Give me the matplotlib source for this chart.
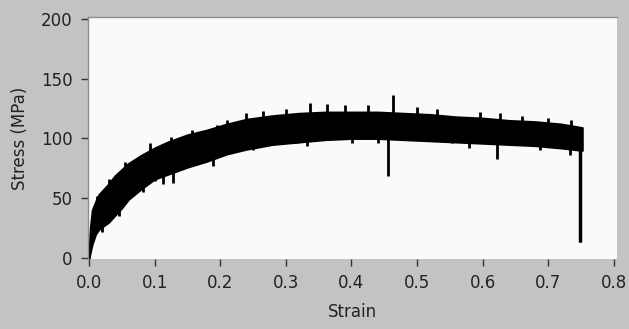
import matplotlib
matplotlib.use('Agg')
import matplotlib.pyplot as plt
import numpy as np

# envelope of the noisy stress-strain band
strain = [0.0, 0.002, 0.005, 0.01, 0.015, 0.02, 0.03, 0.04, 0.05, 0.06, 0.08,
          0.10, 0.12, 0.15, 0.18, 0.21, 0.24, 0.28, 0.32, 0.36, 0.40, 0.44,
          0.48, 0.52, 0.56, 0.60, 0.64, 0.68, 0.72, 0.752]
stress_top = [4, 25, 40, 47, 53, 56, 62, 69, 74, 79, 86,
              92, 97, 103, 107, 112, 116, 119, 121, 122, 122, 122,
              121, 120, 118, 117, 115, 114, 112, 109]
stress_low = [0, 5, 12, 20, 24, 26, 30, 36, 42, 49, 58,
              66, 70, 76, 81, 87, 91, 95, 97, 99, 100, 100,
              99, 98, 97, 96, 95, 94, 92, 90]

# spikes sticking out of the band (strain, tip value)
up_x = [0.012, 0.03, 0.055, 0.093, 0.125, 0.157, 0.195, 0.21, 0.24, 0.265,
        0.30, 0.337, 0.363, 0.39, 0.425, 0.463, 0.50, 0.53, 0.596, 0.627,
        0.66, 0.70, 0.735]
up_y = [52, 66, 80, 96, 101, 107, 111, 115, 121, 123,
        125, 130, 129, 128, 128, 136, 126, 125, 122, 121,
        119, 117, 115]
dn_x = [0.02, 0.045, 0.082, 0.10, 0.113, 0.128, 0.189, 0.204, 0.25, 0.317,
        0.332, 0.401, 0.44, 0.456, 0.553, 0.58, 0.622, 0.687, 0.733, 0.749]
dn_y = [22, 35, 55, 64, 62, 63, 77, 86, 90, 96,
        94, 96, 96, 69, 96, 92, 83, 90, 86, 13]

xticks = [0.0, 0.1, 0.2, 0.3, 0.4, 0.5, 0.6, 0.7, 0.8]
yticks = [0, 50, 100, 150, 200]

fig = plt.figure(figsize=(6.29, 3.29), dpi=100, facecolor='#c3c3c3')
ax = fig.add_axes([88/629, 1 - 259/329, (617 - 88)/629, (259 - 17)/329])
ax.set_facecolor('#fafafa')

ax.fill_between(strain, stress_low, stress_top, color='black', linewidth=1.5,
                edgecolor='black')
# spikes run from their tip back into the middle of the band
mid = (np.array(stress_low) + np.array(stress_top)) / 2
ax.vlines(up_x, np.interp(up_x, strain, mid), up_y, color='black', linewidth=2)
ax.vlines(dn_x, dn_y, np.interp(dn_x, strain, mid), color='black', linewidth=2)
ax.vlines(dn_x[-1], dn_y[-1], 100, color='black', linewidth=2.5)

ax.set_xlim(-0.0015, 0.805)
ax.set_ylim(-0.8, 201.5)
ax.set_xticks(xticks)
ax.set_xticklabels(['%.1f' % v for v in xticks])
ax.set_yticks(yticks)

ax.tick_params(direction='out', length=5, width=1, color='#333333',
               labelcolor='#222222', labelsize=12, pad=6)
for s in ['bottom', 'right']:
    ax.spines[s].set_visible(False)
for s in ['top', 'left']:
    ax.spines[s].set_color('#8c8c8c')
    ax.spines[s].set_linewidth(1)

ax.set_xlabel('Strain', fontsize=12, color='#222222', labelpad=8)
ax.set_ylabel('Stress (MPa)', fontsize=12, color='#222222', labelpad=9)

fig.savefig('out.png', dpi=100, facecolor=fig.get_facecolor())
